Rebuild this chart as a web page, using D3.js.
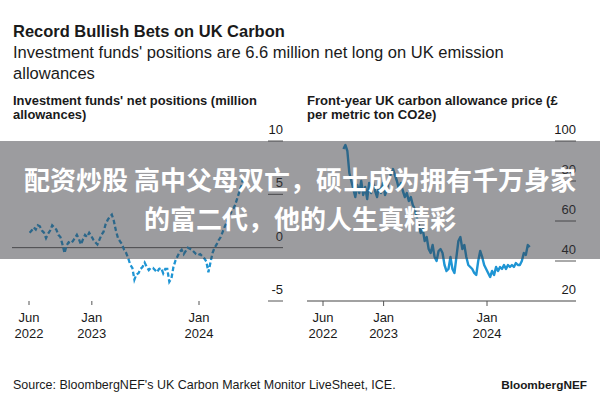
<!DOCTYPE html>
<html>
<head>
<meta charset="utf-8">
<script src="https://cdn.jsdelivr.net/npm/d3@7"></script>
<style>
  body { margin: 0; background: #fff; }
  svg text { font-family: 'Liberation Sans', Arial, sans-serif; fill: #1a1a1a; }
  .cn { font-family: 'Noto Sans CJK SC', sans-serif !important; font-weight: 700; fill: #fff !important; }
</style>
</head>
<body>
<div id="chart"></div>
<script>
// weekly net positions (million allowances), Fridays Jun 3 2022 .. May 31 2024
const positions = [
  1.4, 1.6, 1.9, 1.7, 2.1, 2.0, 1.6, 1.4, 0.9, 1.3, 1.6, 2.1, 1.9, 1.7, 1.2, 1.0,
  0.3, -0.5, 0.2, 0.5, 0.4, 0.6, 0.9, 1.2, 0.8, 0.3, 0.8, 1.2, 1.0, 1.4, 1.1, 0.75,
  0.5, 0.3, 0.75, 1.2, 1.5, 2.2, 2.6, 2.9, 3.1, 2.5, 1.6, 0.9, 0.6, 0.3, -0.2, -0.5,
  -1.0, -1.6, -1.9, -3.0, -2.5, -2.4, -2.0, -1.8, -1.4, -1.8, -2.1, -1.9, -1.9, -2.1,
  -2.3, -2.0, -1.9, -2.4, -2.0, -2.0, -3.2, -2.9, -1.8, -1.2, -0.8, -0.4, -0.2, -0.6,
  -0.3, 0.0, -0.1, -0.2, -0.4, -0.6, -0.7, -0.6, -0.8, -1.0, -1.3, -2.3, -1.4, -0.5,
  0.0, 0.3, 0.7, 1.0, 1.5, 2.0, 2.4, 2.9, 3.3, 3.6, 4.0, 4.6, 5.2, 5.8, 6.6
];
const positionDates = d3.timeFriday.range(new Date(2022, 5, 3), new Date(2024, 5, 1));

// weekly front-year UKA price (GBP/t), Fridays Aug 12 2022 .. May 31 2024
const prices = [
  96, 98, 95, 84, 80, 76, 72, 78, 74, 80, 73, 77, 71, 79, 74, 80, 75, 72, 78, 74, 79,
  73, 76, 80, 84, 86, 83, 80, 76, 79, 75, 72, 74, 70, 72, 68, 66, 62, 58, 54, 56, 50,
  52, 46, 44, 48, 42, 40, 45, 46, 44, 38, 35, 36, 42, 36, 34, 42, 50, 52, 46, 48, 42,
  38, 37, 36, 34, 33, 40, 45, 42, 38, 36,
  34, 32, 35, 33, 37, 35, 37, 36, 38, 36, 38, 37, 38, 37, 39, 38, 38, 40, 44, 43, 48, 47
];
const priceDates = d3.timeFriday.range(new Date(2022, 7, 12), new Date(2024, 5, 1));

const leftTicks = [10, 5, 0, -5];
const rightTicks = [100, 80, 60, 40, 20];
const xTickDates = [new Date(2022, 5, 1), new Date(2023, 0, 1), new Date(2024, 0, 1)];
const xTickLabels = [['Jun', '2022'], ['Jan', '2023'], ['Jan', '2024']];

const overlayLines = ['配资炒股 高中父母双亡，硕士成为拥有千万身家', '的富二代，他的人生真精彩'];

const W = 600, H = 400;
const lineColor = '#1f95d4';
const gridColor = '#555';

const svg = d3.select('#chart').append('svg').attr('width', W).attr('height', H);

// scale text so it spans the given width
const fitText = (sel, width) => {
  sel.each(function () {
    const len = this.getComputedTextLength();
    const fs = parseFloat(d3.select(this).style('font-size'));
    d3.select(this).style('font-size', (fs * width / len) + 'px');
  });
  return parseFloat(sel.style('font-size'));
};

// headings
const title = svg.append('text').attr('x', 13).attr('y', 37)
  .style('font-size', '17px').style('font-weight', 700)
  .text('Record Bullish Bets on UK Carbon');
fitText(title, 272);

const sub = svg.append('text').attr('x', 13).attr('y', 58).style('font-size', '16px')
  .text("Investment funds' positions are 6.6 million net long on UK emission");
const subSize = fitText(sub, 491);
svg.append('text').attr('x', 13).attr('y', 79).style('font-size', subSize + 'px').text('allowances');

const panelTitle = (x, l1, l2, w) => {
  const t = svg.append('text').attr('x', x).attr('y', 105)
    .style('font-size', '12px').style('font-weight', 700).text(l1);
  const fs = fitText(t, w);
  svg.append('text').attr('x', x).attr('y', 119)
    .style('font-size', fs + 'px').style('font-weight', 700).text(l2);
};
panelTitle(13, "Investment funds' net positions (million", 'allowances)', 244);
panelTitle(307, 'Front-year UK carbon allowance price (£', 'per metric ton CO2e)', 251);

// left panel: net positions
const xL = d3.scaleTime().domain([xTickDates[0], xTickDates[2]]).range([29, 199]);
const yL = d3.scaleLinear().domain([-5, 10]).range([301, 141]);
const leftPlot = [12, 283];

const gL = svg.append('g');
gL.selectAll('.ydash').data(leftTicks.filter(d => d !== 0)).enter().append('line')
  .attr('x1', leftPlot[1] - 15).attr('x2', leftPlot[1])
  .attr('y1', d => yL(d)).attr('y2', d => yL(d))
  .attr('stroke', gridColor).attr('stroke-width', 1);
gL.append('line').attr('x1', leftPlot[0]).attr('x2', leftPlot[1])
  .attr('y1', yL(0)).attr('y2', yL(0)).attr('stroke', gridColor).attr('stroke-width', 1);
gL.selectAll('.ylab').data(leftTicks).enter().append('text')
  .attr('x', leftPlot[1]).attr('y', d => yL(d) - 7)
  .attr('text-anchor', 'end').style('font-size', '13px').text(d => d);

gL.append('path')
  .datum(positions.map((v, i) => ({ date: positionDates[i], value: v })))
  .attr('fill', 'none').attr('stroke', lineColor).attr('stroke-width', 2.3)
  .attr('stroke-dasharray', '4.5,2.5')
  .attr('d', d3.line().x(d => xL(d.date)).y(d => yL(d.value)));

const xTicks = (g, x, y0, len) => {
  g.selectAll('.xt').data(xTickDates).enter().append('line')
    .attr('x1', d => x(d)).attr('x2', d => x(d))
    .attr('y1', y0).attr('y2', y0 + len)
    .attr('stroke', gridColor).attr('stroke-width', 1);
  const t = g.selectAll('.xl').data(xTickDates).enter().append('text')
    .attr('text-anchor', 'middle').style('font-size', '13px');
  t.append('tspan').attr('x', d => x(d)).attr('y', 322).text((d, i) => xTickLabels[i][0]);
  t.append('tspan').attr('x', d => x(d)).attr('y', 338).text((d, i) => xTickLabels[i][1]);
};
xTicks(gL, xL, 301, 4);

// right panel: price
const xR = d3.scaleTime().domain([xTickDates[0], xTickDates[2]]).range([323, 487]);
const yR = d3.scaleLinear().domain([20, 100]).range([301, 141]);
const rightPlot = [307, 576];

const gR = svg.append('g');
gR.selectAll('.ydash').data(rightTicks.filter(d => d !== 20)).enter().append('line')
  .attr('x1', rightPlot[1] - 21).attr('x2', rightPlot[1])
  .attr('y1', d => yR(d)).attr('y2', d => yR(d))
  .attr('stroke', gridColor).attr('stroke-width', 1);
gR.selectAll('.ylab').data(rightTicks).enter().append('text')
  .attr('x', rightPlot[1]).attr('y', d => yR(d) - 7)
  .attr('text-anchor', 'end').style('font-size', '13px').text(d => d);

gR.append('path')
  .datum(prices.map((v, i) => ({ date: priceDates[i], value: v })))
  .attr('fill', 'none').attr('stroke', lineColor).attr('stroke-width', 2.4)
  .attr('stroke-linejoin', 'round')
  .attr('d', d3.line().x(d => xR(d.date)).y(d => yR(d.value)));

gR.append('line').attr('x1', rightPlot[0]).attr('x2', rightPlot[1])
  .attr('y1', yR(20)).attr('y2', yR(20)).attr('stroke', '#444').attr('stroke-width', 1.2);
xTicks(gR, xR, 301, 5);

// footer
const src = svg.append('text').attr('x', 13).attr('y', 389).style('font-size', '12px')
  .text("Source: BloombergNEF's UK Carbon Market Monitor LiveSheet, ICE.");
fitText(src, 383);
const brand = svg.append('text').attr('x', 587).attr('y', 389).attr('text-anchor', 'end')
  .style('font-size', '12px').style('font-weight', 700).text('BloombergNEF');
fitText(brand, 86);

// grey banner over the middle
svg.append('rect').attr('x', 0).attr('y', 141).attr('width', W).attr('height', 118)
  .attr('fill', '#3a3a40').attr('opacity', 0.5);
svg.selectAll('.cn').data(overlayLines).enter().append('text')
  .attr('class', 'cn').attr('x', 300).attr('y', (d, i) => 190 + i * 39)
  .attr('text-anchor', 'middle').style('font-size', '26px').text(d => d);
</script>
</body>
</html>
